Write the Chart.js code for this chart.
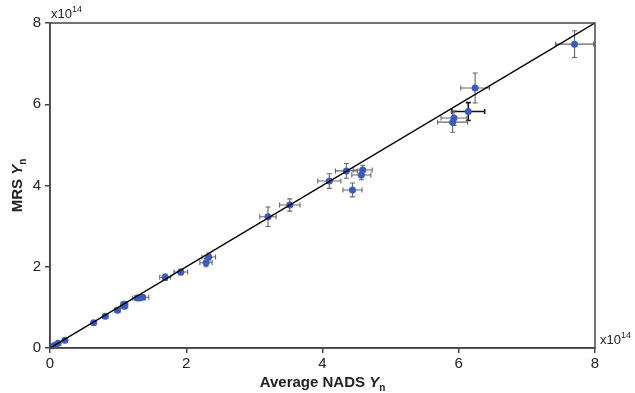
<!DOCTYPE html>
<html>
<head>
<meta charset="utf-8">
<script src="https://cdn.jsdelivr.net/npm/chart.js@4/dist/chart.umd.min.js"></script>
<style>
  html, body { margin: 0; padding: 0; background: #fff; }
  #wrap { width: 635px; height: 393px; }
</style>
</head>
<body>
<div id="wrap"><canvas id="chart" width="635" height="393"></canvas></div>
<script>
// values in units of 1e14
const nadsX = [7.70, 6.24, 6.14, 5.93, 5.91, 4.10, 4.35, 4.59, 4.57, 4.44,
               3.20, 3.52, 2.33, 2.29, 1.92, 1.69, 1.28, 1.32, 1.36, 1.09,
               1.09, 0.99, 0.81, 0.64, 0.22, 0.12, 0.07, 0.03];
const mrsY = [7.48, 6.40, 5.82, 5.66, 5.56, 4.11, 4.36, 4.38, 4.26, 3.89,
              3.23, 3.52, 2.24, 2.10, 1.87, 1.74, 1.23, 1.23, 1.25, 1.08,
              1.03, 0.93, 0.78, 0.62, 0.19, 0.12, 0.07, 0.03];
const nadsErr = [0.28, 0.21, 0.24, 0.19, 0.22, 0.17, 0.16, 0.14, 0.14, 0.14,
                 0.12, 0.15, 0.10, 0.09, 0.10, 0.08, 0.07, 0.08, 0.09, 0.05,
                 0.05, 0.04, 0.04, 0.03, 0.03, 0.02, 0.02, 0.01];
const mrsErr = [0.33, 0.37, 0.22, 0.18, 0.25, 0.18, 0.18, 0.12, 0.12, 0.17,
                0.24, 0.15, 0.10, 0.10, 0.07, 0.08, 0.05, 0.05, 0.05, 0.06,
                0.06, 0.04, 0.04, 0.03, 0.03, 0.02, 0.02, 0.01];
const darkErrPoint = 2; // this one has black error bars in the original
const tickValues = [0, 2, 4, 6, 8];
const exponentLabel = '14';

const points = nadsX.map((x, i) => ({ x: x, y: mrsY[i] }));

const axisColor = '#444';
const font = 'Liberation Sans, Arial, sans-serif';

// error bars drawn under the points
const errorBars = {
    id: 'errorBars',
    beforeDatasetsDraw(chart) {
        const c = chart.ctx;
        const xs = chart.scales.x, ys = chart.scales.y;
        const cap = 2.5;
        c.save();
        for (let i = 0; i < nadsX.length; i++) {
            const px = xs.getPixelForValue(nadsX[i]);
            const py = ys.getPixelForValue(mrsY[i]);
            const x0 = xs.getPixelForValue(nadsX[i] - nadsErr[i]);
            const x1 = xs.getPixelForValue(nadsX[i] + nadsErr[i]);
            const y0 = ys.getPixelForValue(mrsY[i] - mrsErr[i]);
            const y1 = ys.getPixelForValue(mrsY[i] + mrsErr[i]);
            c.strokeStyle = i === darkErrPoint ? '#111' : '#666';
            c.lineWidth = i === darkErrPoint ? 1.6 : 1.1;
            c.beginPath();
            c.moveTo(x0, py); c.lineTo(x1, py);
            c.moveTo(x0, py - cap); c.lineTo(x0, py + cap);
            c.moveTo(x1, py - cap); c.lineTo(x1, py + cap);
            c.moveTo(px, y0); c.lineTo(px, y1);
            c.moveTo(px - cap, y0); c.lineTo(px + cap, y0);
            c.moveTo(px - cap, y1); c.lineTo(px + cap, y1);
            c.stroke();
        }
        c.restore();
    }
};

// frame, axis titles and the x10^14 labels
const decorations = {
    id: 'decorations',
    afterDraw(chart) {
        const c = chart.ctx;
        const a = chart.chartArea;
        c.save();
        c.strokeStyle = axisColor;
        c.lineWidth = 1.5;
        c.strokeRect(a.left, a.top, a.right - a.left, a.bottom - a.top);

        c.fillStyle = '#222';
        c.textBaseline = 'alphabetic';
        c.textAlign = 'left';
        // exponent labels
        const drawExp = (x, y) => {
            c.font = '13px ' + font;
            c.fillText('x10', x, y);
            const w = c.measureText('x10').width;
            c.font = '9px ' + font;
            c.fillText(exponentLabel, x + w, y - 6);
        };
        drawExp(a.left + 1, a.top - 5);
        drawExp(a.right + 5, a.bottom - 4);

        // x title
        const parts = [['Average NADS ', 'bold 15px '], ['Y', 'bold italic 15px ']];
        c.font = 'bold 15px ' + font;
        let wTotal = c.measureText('Average NADS ').width;
        c.font = 'bold italic 15px ' + font;
        wTotal += c.measureText('Y').width;
        c.font = 'bold 10px ' + font;
        wTotal += c.measureText('n').width;
        let tx = (a.left + a.right) / 2 - wTotal / 2;
        const ty = 387;
        parts.forEach(p => {
            c.font = p[1] + font;
            c.fillText(p[0], tx, ty);
            tx += c.measureText(p[0]).width;
        });
        c.font = 'bold 10px ' + font;
        c.fillText('n', tx, ty + 4);

        // y title
        c.translate(22, (a.top + a.bottom) / 2);
        c.rotate(-Math.PI / 2);
        c.font = 'bold 15px ' + font;
        let w2 = c.measureText('MRS ').width;
        c.font = 'bold italic 15px ' + font;
        const wy = c.measureText('Y').width;
        c.font = 'bold 10px ' + font;
        const wn = c.measureText('n').width;
        let sx = -(w2 + wy + wn) / 2;
        c.font = 'bold 15px ' + font;
        c.fillText('MRS ', sx, 0);
        sx += w2;
        c.font = 'bold italic 15px ' + font;
        c.fillText('Y', sx, 0);
        sx += wy;
        c.font = 'bold 10px ' + font;
        c.fillText('n', sx, 4);
        c.restore();
    }
};

new Chart(document.getElementById('chart'), {
    type: 'scatter',
    data: {
        datasets: [{
            label: 'points',
            data: points,
            pointRadius: 3.5,
            pointHoverRadius: 3.5,
            pointBackgroundColor: '#3a5bbd',
            pointBorderColor: '#3a5bbd',
            pointBorderWidth: 0,
            order: 2
        }, {
            type: 'line',
            label: '1:1',
            data: [{ x: tickValues[0], y: tickValues[0] }, { x: tickValues[4], y: tickValues[4] }],
            borderColor: '#000',
            borderWidth: 1.5,
            pointRadius: 0,
            fill: false,
            order: 1
        }]
    },
    options: {
        responsive: false,
        animation: false,
        layout: { padding: { left: 0, right: 40, top: 23, bottom: 0 } },
        plugins: { legend: { display: false }, tooltip: { enabled: false } },
        scales: {
            x: {
                type: 'linear',
                min: 0, max: 8,
                afterBuildTicks: s => { s.ticks = tickValues.map(v => ({ value: v })); },
                afterFit: s => { s.height = 45; },
                ticks: { color: '#222', font: { family: font, size: 15 }, padding: 2 },
                grid: { display: true, drawOnChartArea: false, drawTicks: true, tickLength: 5, color: axisColor, lineWidth: 1.5 },
                border: { display: true, color: axisColor, width: 1.5 }
            },
            y: {
                type: 'linear',
                min: 0, max: 8,
                afterBuildTicks: s => { s.ticks = tickValues.map(v => ({ value: v })); },
                afterFit: s => { s.width = 50; },
                ticks: { color: '#222', font: { family: font, size: 15 }, padding: 4 },
                grid: { display: true, drawOnChartArea: false, drawTicks: true, tickLength: 5, color: axisColor, lineWidth: 1.5 },
                border: { display: true, color: axisColor, width: 1.5 }
            }
        }
    },
    plugins: [errorBars, decorations]
});
</script>
</body>
</html>
